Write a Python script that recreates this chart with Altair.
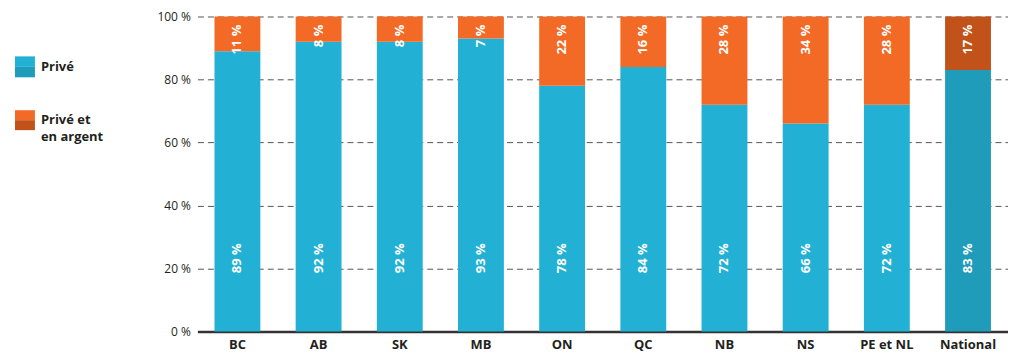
import altair as alt
import pandas as pd

categories = ["BC", "AB", "SK", "MB", "ON", "QC", "NB", "NS", "PE et NL", "National"]
prive = [89, 92, 92, 93, 78, 84, 72, 66, 72, 83]
prive_argent = [11, 8, 8, 7, 22, 16, 28, 34, 28, 17]
series_names = ["Privé", "Privé et en argent"]
y_ticks = [0, 20, 40, 60, 80, 100]

colors = {
    "p": "#22b1d4",
    "a": "#f26a25",
    "p_nat": "#1e9cba",
    "a_nat": "#c0521a",
}

rows = []
for i, c in enumerate(categories):
    nat = "_nat" if c == "National" else ""
    rows.append({"cat": c, "serie": series_names[0], "val": prive[i], "ord": 0,
                 "key": "p" + nat, "lab": f"{prive[i]} %", "ly": 28.0})
    rows.append({"cat": c, "serie": series_names[1], "val": prive_argent[i], "ord": 1,
                 "key": "a" + nat, "lab": f"{prive_argent[i]} %", "ly": 97.4})
df = pd.DataFrame(rows)

FONT = "Open Sans"
W, H = 813, 316

xenc = alt.X("cat:N", sort=categories, title=None,
             scale=alt.Scale(paddingInner=0.435, paddingOuter=0.21),
             axis=alt.Axis(labelAngle=0, labelFont=FONT, labelFontSize=13, labelFontWeight="bold",
                           labelColor="#231f20", labelPadding=7, ticks=False,
                           domainColor="#333333", domainWidth=2.5, grid=False))

bars = alt.Chart(df).mark_bar().encode(
    x=xenc,
    y=alt.Y("val:Q", stack="zero", title=None,
            scale=alt.Scale(domain=[0, 100], nice=False),
            axis=alt.Axis(values=y_ticks, labelExpr="datum.value + ' %'", labelFont=FONT,
                          labelFontSize=12, labelColor="#231f20", labelPadding=7,
                          ticks=False, domain=False, grid=True, gridDash=[6, 4],
                          gridColor="#555555", gridWidth=1)),
    order=alt.Order("ord:Q"),
    color=alt.Color("key:N", legend=None,
                    scale=alt.Scale(domain=list(colors.keys()), range=list(colors.values()))),
)

labels = alt.Chart(df).mark_text(angle=270, align="right", baseline="middle", font=FONT,
                                 fontSize=13, fontWeight="bold", color="white").encode(
    x=alt.X("cat:N", sort=categories),
    y=alt.Y("ly:Q"),
    text="lab:N",
)

main = alt.layer(bars, labels).properties(width=W, height=H)

# custom legend (two-tone swatches)
leg_rects = pd.DataFrame([
    {"x": 7, "x2": 27, "y": 40, "y2": 50.5, "c": colors["p"]},
    {"x": 7, "x2": 27, "y": 50.5, "y2": 61, "c": colors["p_nat"]},
    {"x": 7, "x2": 27, "y": 94, "y2": 104, "c": colors["a"]},
    {"x": 7, "x2": 27, "y": 104, "y2": 114, "c": colors["a_nat"]},
])
leg_text = pd.DataFrame([
    {"x": 33, "y": 51, "t": "Privé"},
    {"x": 33, "y": 104, "t": "Privé et"},
    {"x": 33, "y": 121, "t": "en argent"},
])
LW = 130
xs = alt.Scale(domain=[0, LW], range=[0, LW])
ys = alt.Scale(domain=[0, H], range=[0, H])
lr = alt.Chart(leg_rects).mark_rect().encode(
    x=alt.X("x:Q", scale=xs, axis=None), x2="x2:Q",
    y=alt.Y("y:Q", scale=ys, axis=None), y2="y2:Q",
    color=alt.Color("c:N", scale=None, legend=None),
)
lt = alt.Chart(leg_text).mark_text(align="left", baseline="middle", font=FONT, fontSize=13,
                                   fontWeight="bold", color="#231f20").encode(
    x=alt.X("x:Q", scale=xs, axis=None),
    y=alt.Y("y:Q", scale=ys, axis=None),
    text="t:N",
)
legend = alt.layer(lr, lt).properties(width=LW, height=H)

chart = alt.hconcat(legend, main, spacing=19).properties(
    padding={"top": 2, "left": 0, "right": 0, "bottom": 0}
).configure_view(stroke=None).configure_scale(bandPaddingInner=0.435)

chart.save("out.html", embed_options={"renderer": "svg", "actions": False})
